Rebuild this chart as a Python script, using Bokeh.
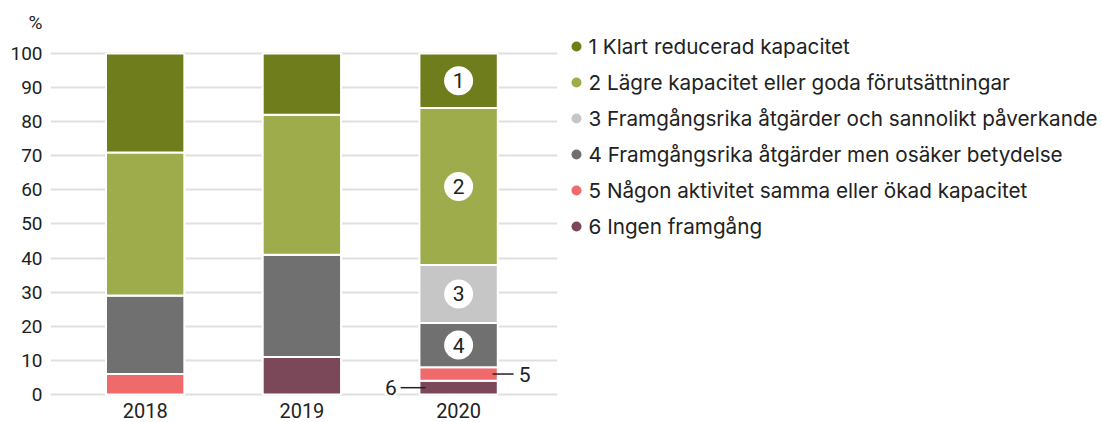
import numpy as np
from bokeh.plotting import figure
from bokeh.models import ColumnDataSource, Range1d, FixedTicker
from bokeh.layouts import row
from bokeh.core.properties import value
from bokeh.embed import file_html
from bokeh.resources import INLINE

# ---------------- data ----------------
years = ["2018", "2019", "2020"]
categories = [
    "1 Klart reducerad kapacitet",
    "2 Lägre kapacitet eller goda förutsättningar",
    "3 Framgångsrika åtgärder och sannolikt påverkande",
    "4 Framgångsrika åtgärder men osäker betydelse",
    "5 Någon aktivitet samma eller ökad kapacitet",
    "6 Ingen framgång",
]
numbers = ["1", "2", "3", "4", "5", "6"]
colors = ["#6f7d1c", "#9fac4c", "#c6c6c6", "#707070", "#ef6b6b", "#7b4859"]

cat1 = [29, 18, 16]
cat2 = [42, 41, 46]
cat3 = [0, 0, 17]
cat4 = [23, 30, 13]
cat5 = [6, 0, 4]
cat6 = [0, 11, 4]
y_ticks = [0, 10, 20, 30, 40, 50, 60, 70, 80, 90, 100]
unit_label = "%"

# ---------------- style ----------------
FONT = "Inter"
NUMFONT = "Roboto"
TXT = "#222222"
UNIT_POS = 109  # axis position where the unit label sits (above the top tick)

series = [cat1, cat2, cat3, cat4, cat5, cat6]
keys = ["c1", "c2", "c3", "c4", "c5", "c6"]
xs = list(range(len(years)))
data = {"x": xs, "year": years}
for k, s in zip(keys, series):
    data[k] = s
source = ColumnDataSource(data)

p = figure(width=568, height=422, title=None,
           x_range=Range1d(-0.604, 2.631), y_range=Range1d(-8.21, 111.14),
           x_axis_location=None, output_backend="svg", toolbar_location=None,
           min_border_left=50, min_border_right=11, min_border_top=15, min_border_bottom=0)
p.outline_line_color = None
p.background_fill_color = "white"
p.xgrid.visible = False
p.ygrid.ticker = FixedTicker(ticks=y_ticks)
p.ygrid.grid_line_color = "#e0e0e0"
p.ygrid.grid_line_width = 2
p.yaxis.ticker = FixedTicker(ticks=y_ticks + [UNIT_POS])
p.yaxis.major_label_overrides = {UNIT_POS: unit_label}
p.yaxis.axis_line_color = None
p.yaxis.major_tick_line_color = None
p.yaxis.minor_tick_line_color = None
p.yaxis.major_label_standoff = 2
p.yaxis.major_label_text_font = NUMFONT
p.yaxis.major_label_text_font_size = "19px"
p.yaxis.major_label_text_color = TXT

# stacked bars, bottom-up order 6..1
order = list(range(len(keys)))[::-1]
p.vbar_stack([keys[i] for i in order], x="x", width=0.5, source=source,
             fill_color=[colors[i] for i in order], line_color="white", line_width=2)

# x labels
p.text(x=xs, y=[-4.8] * len(xs), text=years, text_align="center", text_baseline="middle",
       text_font=value(NUMFONT), text_font_size="20px", text_color=TXT)

# numbered circles / callouts on last bar
last = len(years) - 1
vals = np.array([series[i][last] for i in order], dtype=float)
bottoms = np.concatenate([[0], np.cumsum(vals)[:-1]])
mids = bottoms + vals / 2
big_x, big_y, big_t = [], [], []
small = []
for j, i in enumerate(order):
    if vals[j] >= 10:
        big_x.append(last); big_y.append(mids[j]); big_t.append(numbers[i])
    elif vals[j] > 0:
        small.append((mids[j], numbers[i]))
p.scatter(x=big_x, y=big_y, size=29, fill_color="white", line_color=None)
p.text(x=big_x, y=big_y, text=big_t, text_align="center", text_baseline="middle",
       text_font=value(NUMFONT), text_font_size="21px", text_color=TXT)

small.sort()
for k, (ym, t) in enumerate(small):
    if k == 0:  # lowest -> left side
        p.segment(x0=[last - 0.370], y0=[ym], x1=[last - 0.211], y1=[ym], line_color=TXT, line_width=1.5)
        p.text(x=[last - 0.395], y=[ym], text=[t], text_align="right", text_baseline="middle",
               text_font=value(NUMFONT), text_font_size="21px", text_color=TXT,
               background_fill_color="white")
    else:
        p.segment(x0=[last + 0.217], y0=[ym], x1=[last + 0.351], y1=[ym], line_color=TXT, line_width=1.5)
        p.text(x=[last + 0.383], y=[ym], text=[t], text_align="left", text_baseline="middle",
               text_font=value(NUMFONT), text_font_size="21px", text_color=TXT)

# ---------------- legend panel ----------------
# frame is aligned with the chart frame (top border 15 px), so y range = page pixels 15..422
L = figure(width=534, height=422, title=None, x_range=Range1d(0, 534), y_range=Range1d(422, 15),
           x_axis_location=None, y_axis_location=None, output_backend="svg",
           toolbar_location=None, min_border_left=0, min_border_right=0,
           min_border_top=15, min_border_bottom=0)
L.outline_line_color = None
L.grid.visible = False
rows_y = [46 + 36 * k for k in range(len(categories))]
L.scatter(x=[8] * len(categories), y=rows_y, size=10, fill_color=colors, line_color=None)
L.text(x=[20] * len(categories), y=rows_y, text=categories, text_align="left", text_baseline="middle",
       text_font=value(FONT), text_font_size="20.7px", text_color=TXT)

layout = row(p, L)
open("out.html", "w").write(file_html(layout, INLINE))
